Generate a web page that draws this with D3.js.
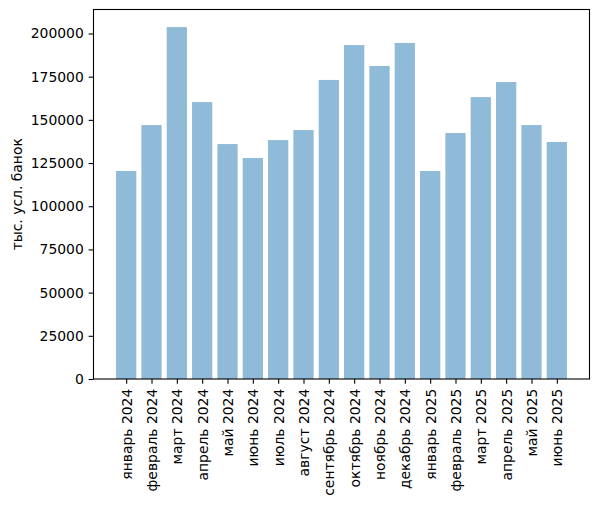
<!DOCTYPE html>
<html>
<head>
<meta charset="utf-8">
<title>тыс. усл. банок</title>
<script src="https://d3js.org/d3.v7.min.js"></script>
<style>
    body { margin: 0; background: #fff; }
    text { font-family: "DejaVu Sans", sans-serif; fill: #000; }
</style>
</head>
<body>
<div id="chart"></div>
<script>
// month labels
var months = ["январь 2024", "февраль 2024", "март 2024", "апрель 2024", "май 2024",
    "июнь 2024", "июль 2024", "август 2024", "сентябрь 2024", "октябрь 2024",
    "ноябрь 2024", "декабрь 2024", "январь 2025", "февраль 2025", "март 2025",
    "апрель 2025", "май 2025", "июнь 2025"];

// values, thousand conventional cans
var values = [120400, 147000, 203700, 160300, 136000, 127900, 138300, 144100, 173100,
    193300, 181200, 194500, 120400, 142400, 163200, 171900, 147000, 137200];

var yTicks = [0, 25000, 50000, 75000, 100000, 125000, 150000, 175000, 200000];

var width = 598, height = 506;
var margin = {left: 93.5, right: 8.5, top: 9.5, bottom: 127};

var svg = d3.select('#chart').append('svg')
    .attr('width', width)
    .attr('height', height);

var n = values.length;
var barW = 0.8;
var xPad = (n - 1 + barW) * 0.05;

var x = d3.scaleLinear()
    .domain([-barW / 2 - xPad, n - 1 + barW / 2 + xPad])
    .range([margin.left, width - margin.right]);

var yMax = d3.max(values) * 1.05;
var y = d3.scaleLinear()
    .domain([0, yMax])
    .range([height - margin.bottom, margin.top]);

// bars
svg.selectAll('rect.bar')
    .data(values)
    .enter().append('rect')
    .attr('class', 'bar')
    .attr('x', (d, i) => x(i - barW / 2))
    .attr('width', (d, i) => x(i + barW / 2) - x(i - barW / 2))
    .attr('y', d => y(d))
    .attr('height', d => y(0) - y(d))
    .attr('fill', '#1f77b4')
    .attr('fill-opacity', 0.5);

var fs = 13.9;
var tickLen = 4.86;

// y axis
var yAxis = d3.axisLeft(y)
    .tickValues(yTicks)
    .tickFormat(d3.format('d'))
    .tickSize(tickLen)
    .tickPadding(4.86);

var gy = svg.append('g')
    .attr('transform', 'translate(' + margin.left + ',0)')
    .call(yAxis);
gy.select('.domain').remove();
gy.selectAll('line').attr('stroke-width', 1.1);
gy.selectAll('text')
    .style('font-size', fs + 'px')
    .style('font-family', '"DejaVu Sans", sans-serif');

// x axis
var xAxis = d3.axisBottom(x)
    .tickValues(d3.range(n))
    .tickFormat(i => months[i])
    .tickSize(tickLen)
    .tickPadding(0);

var gx = svg.append('g')
    .attr('transform', 'translate(0,' + (height - margin.bottom) + ')')
    .call(xAxis);
gx.select('.domain').remove();
gx.selectAll('line').attr('stroke-width', 1.1);
gx.selectAll('text')
    .style('font-size', fs + 'px')
    .style('font-family', '"DejaVu Sans", sans-serif')
    .attr('text-anchor', 'end')
    .attr('dy', null)
    .attr('y', 0)
    .attr('dominant-baseline', 'central')
    .attr('transform', 'translate(0,' + (tickLen + 4.86) + ') rotate(-90)');

// frame
svg.append('rect')
    .attr('x', margin.left)
    .attr('y', margin.top)
    .attr('width', width - margin.left - margin.right)
    .attr('height', height - margin.top - margin.bottom)
    .attr('fill', 'none')
    .attr('stroke', '#000')
    .attr('stroke-width', 1.1);

// y label
svg.append('text')
    .attr('transform', 'translate(17,' + ((margin.top + height - margin.bottom) / 2) + ') rotate(-90)')
    .attr('text-anchor', 'middle')
    .attr('dominant-baseline', 'central')
    .style('font-size', fs + 'px')
    .text('тыс. усл. банок');
</script>
</body>
</html>
